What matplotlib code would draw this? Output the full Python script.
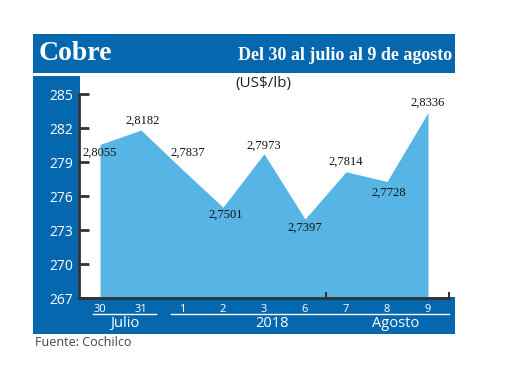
import matplotlib.pyplot as plt
from matplotlib.patches import Rectangle
from matplotlib.transforms import blended_transform_factory

# Cobre, precio diario (US$/lb x 100 en el eje)
dias = ['30', '31', '1', '2', '3', '6', '7', '8', '9']
precios = [2.8055, 2.8182, 2.7837, 2.7501, 2.7973, 2.7397, 2.7814, 2.7728, 2.8336]
yticks = [267, 270, 273, 276, 279, 282, 285]
# offset (px) of each value label from its point
lbl_dx = [0, 2, 6, 3, 0, 0, 0, 2, 0]
lbl_dy = [-8, 9, 16, -8, 8, -9, 10, -11, 10]
grupos = [('Julio', 0.6), ('2018', 4.2), ('Agosto', 7.2)]

AZUL = '#0567ae'
CELESTE = '#56b5e4'
GRIS = '#333333'
W, H = 520, 390

fig = plt.figure(figsize=(W / 100, H / 100), dpi=100)

# background in pixel coordinates
bg = fig.add_axes([0, 0, 1, 1])
bg.set_xlim(0, W)
bg.set_ylim(H, 0)
bg.axis('off')
bg.add_patch(Rectangle((33, 34), 422, 39, color=AZUL, lw=0))
bg.add_patch(Rectangle((33, 76), 47, 258, color=AZUL, lw=0))
bg.add_patch(Rectangle((33, 297), 422, 37, color=AZUL, lw=0))
bg.text(39, 53, 'Cobre', color='white', fontsize=20, fontweight='bold',
        family='Liberation Serif', va='center', ha='left')
bg.text(452, 56, 'Del 30 al julio al 9 de agosto', color='white', fontsize=13,
        fontweight='bold', family='Liberation Serif', va='center', ha='right')
bg.text(263, 84, '(US$/lb)', color='#222222', fontsize=11, family='Open Sans',
        va='center', ha='center')
bg.text(35, 342, 'Fuente: Cochilco', color='#444444', fontsize=9, family='Open Sans',
        va='center', ha='left')

# data axes
x0, x1, ytop, ybot = 79, 449, 94, 298
ax = fig.add_axes([x0 / W, (H - ybot) / H, (x1 - x0) / W, (ybot - ytop) / H])
ax.patch.set_alpha(0)
xs = list(range(len(dias)))
vals = [p * 100 for p in precios]
ax.fill_between(xs, yticks[0], vals, color=CELESTE, lw=0)
ax.set_xlim(-21 / 41, len(dias) - 1 + 21 / 41)
ax.set_ylim(yticks[0], yticks[-1])

for s in ['top', 'right']:
    ax.spines[s].set_visible(False)
for s in ['left', 'bottom']:
    ax.spines[s].set_color(GRIS)
    ax.spines[s].set_linewidth(2)

ax.set_yticks(yticks)
ax.tick_params(axis='y', direction='in', length=7, width=2, color=GRIS,
               labelcolor='white', labelsize=10, pad=4)
ax.set_xticks(xs, dias)
ax.tick_params(axis='x', length=0, labelcolor='white', labelsize=8, pad=4)
ax.set_xticks([5.5, ax.get_xlim()[1]], minor=True)
ax.tick_params(axis='x', which='minor', direction='in', length=4, width=1.5, color=GRIS)
for t in ax.get_xticklabels() + ax.get_yticklabels():
    t.set_family('Open Sans')

for x, v, p, dx, dy in zip(xs, vals, precios, lbl_dx, lbl_dy):
    ax.annotate(f'{p:.4f}'.replace('.', ','), (x, v), xytext=(dx, dy),
                textcoords='offset pixels', ha='center', va='center',
                fontsize=9, family='Liberation Serif', color='#111111')

# group labels under the days
tr = blended_transform_factory(ax.transData, ax.transAxes)
ax.plot([-0.17, 1.37], [-0.078, -0.078], color='white', lw=1, transform=tr, clip_on=False)
ax.plot([1.73, 8.51], [-0.078, -0.078], color='white', lw=1, transform=tr, clip_on=False)
for nombre, xp in grupos:
    ax.text(xp, -0.127, nombre, color='white', fontsize=10.5, family='Open Sans',
            ha='center', va='center', transform=tr)

fig.savefig('out.png', dpi=100)
